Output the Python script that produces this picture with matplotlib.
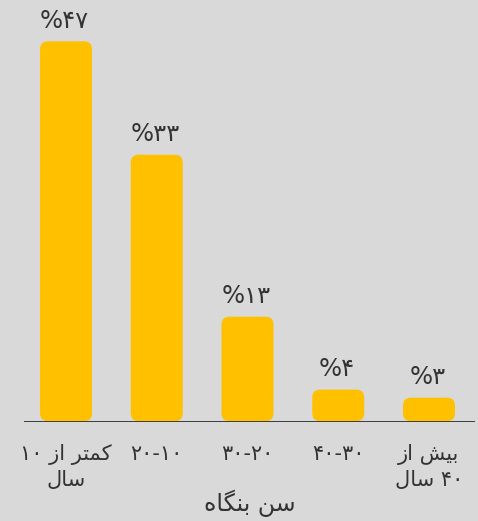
import matplotlib.pyplot as plt
from matplotlib.patches import FancyBboxPatch

# داده‌ها (حروف فارسی به صورت شکل‌دار، ترتیب منطقی)
values = [47, 33, 13, 4, 3]
pct_labels = ['%\u06F4\u06F7', '%\u06F3\u06F3', '%\u06F1\u06F3', '%\u06F4', '%\u06F3']
categories = [
    '\uFEDB\uFEE4\uFE98\uFEAE \uFE8D\uFEAF \u06F1\u06F0\n\uFEB3\uFE8E\uFEDD',
    '\u06F1\u06F0-\u06F2\u06F0',
    '\u06F2\u06F0-\u06F3\u06F0',
    '\u06F3\u06F0-\u06F4\u06F0',
    '\uFE91\uFEF4\uFEB6 \uFE8D\uFEAF\n\u06F4\u06F0 \uFEB3\uFE8E\uFEDD',
]
xlabel = '\uFEB3\uFEE6 \uFE91\uFEE8\uFB95\uFE8E\uFEE9'


# راست به چپ: کل خط برعکس، ولی اعداد از چپ به راست
def visual(s):
    out = []
    for line in s.split('\n'):
        rev = line[::-1]
        res, run = '', ''
        for c in rev:
            if '\u06F0' <= c <= '\u06F9':
                run += c
            else:
                res += run[::-1] + c
                run = ''
        res += run[::-1]
        out.append(res)
    return '\n'.join(out)


bg = '#d9d9d9'
bar_color = '#ffc000'
text_color = '#333333'

plt.rcParams['font.family'] = ['DejaVu Sans']

fig = plt.figure(figsize=(4.78, 5.21), dpi=100, facecolor=bg)
ax = fig.add_axes([24 / 478, 99 / 521, 451 / 478, 422 / 521])
ax.set_facecolor(bg)

x = list(range(len(values)))
width = 0.573
ax.set_xlim(-0.463, 4.507)
ax.set_ylim(0, 422 / 8.1)

for xi, v, lab in zip(x, values, pct_labels):
    box = FancyBboxPatch((xi - width / 2, 0.1), width, v - 0.1,
                         boxstyle='round,pad=0,rounding_size=0.088',
                         mutation_aspect=11.2, fc=bar_color, ec='none')
    ax.add_patch(box)
    ax.annotate(lab, (xi, v), xytext=(-1, 6), textcoords='offset points',
                ha='center', va='bottom', fontsize=17.5, color=text_color)

ax.axhline(0, color='#2e2e2e', lw=2)

for s in ['top', 'right', 'left', 'bottom']:
    ax.spines[s].set_visible(False)
ax.set_yticks([])
ax.set_xticks(x)
ax.set_xticklabels([visual(c) for c in categories], fontsize=15,
                   color=text_color, linespacing=1.3)
ax.tick_params(axis='x', length=0, pad=16)
ax.set_xlabel(visual(xlabel), fontsize=17, color=text_color, labelpad=0)

fig.savefig('out.png', dpi=100, facecolor=bg)
